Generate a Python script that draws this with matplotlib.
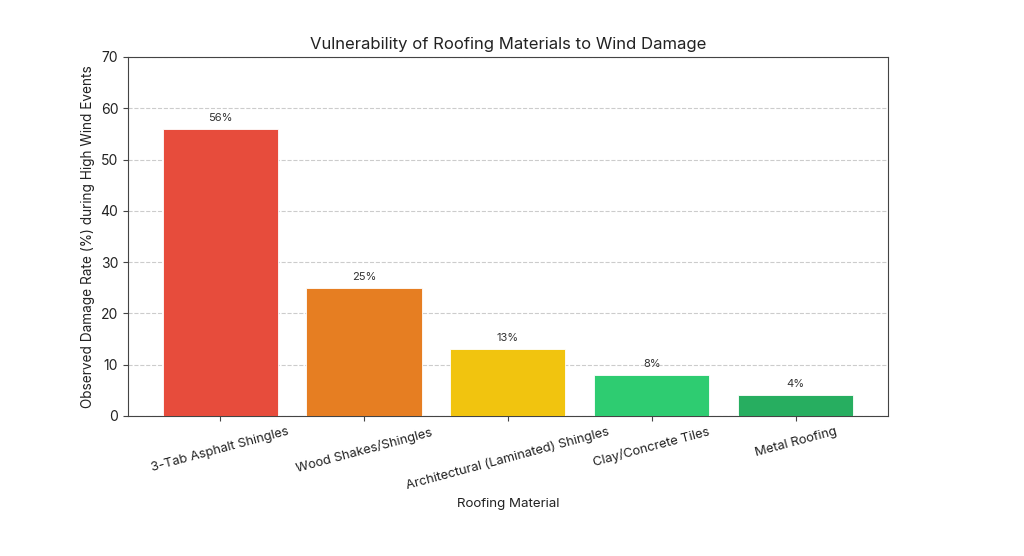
import matplotlib
matplotlib.use("Agg")
import matplotlib.pyplot as plt

categories = ["3-Tab Asphalt Shingles", "Wood Shakes/Shingles",
              "Architectural (Laminated) Shingles", "Clay/Concrete Tiles", "Metal Roofing"]
values = [56, 25, 13, 8, 4]
colors = ["#e74c3c", "#e67e22", "#f1c40f", "#2ecc71", "#27ae60"]
yticks = [0, 10, 20, 30, 40, 50, 60, 70]

plt.rcParams['font.family'] = ['Inter', 'DejaVu Sans']

fig = plt.figure(figsize=(10.24, 5.56), dpi=100)
ax = fig.add_axes([0.125, 0.252, 0.742, 0.6455])

x = list(range(len(categories)))
ax.bar(x, values, width=0.8, color=colors, edgecolor="white", linewidth=0.6, zorder=3)
for xi, v in zip(x, values):
    ax.text(xi, v + 1.2, f"{v}%", ha="center", va="bottom", fontsize=8, color="#333333")

ax.set_ylim(0, 70)
ax.set_yticks(yticks)
ax.set_xticks(x)
ax.set_xticklabels(categories, rotation=15, ha="center", fontsize=9.3, color="#222222")
ax.tick_params(axis="y", labelsize=10, labelcolor="#222222")
ax.tick_params(colors="#444444", which="both")
ax.tick_params(axis="x", labelcolor="#222222")
ax.tick_params(axis="y", labelcolor="#222222")
for s in ax.spines.values():
    s.set_color("#444444")
ax.grid(axis="y", linestyle="--", color="#cccccc", linewidth=0.8, zorder=0)
ax.set_axisbelow(True)
ax.set_title("Vulnerability of Roofing Materials to Wind Damage", fontsize=12, color="#222222")
ax.set_xlabel("Roofing Material", fontsize=9.6, color="#222222")
ax.set_ylabel("Observed Damage Rate (%) during High Wind Events", fontsize=9.8, color="#222222")

fig.savefig("out.png", dpi=100)
